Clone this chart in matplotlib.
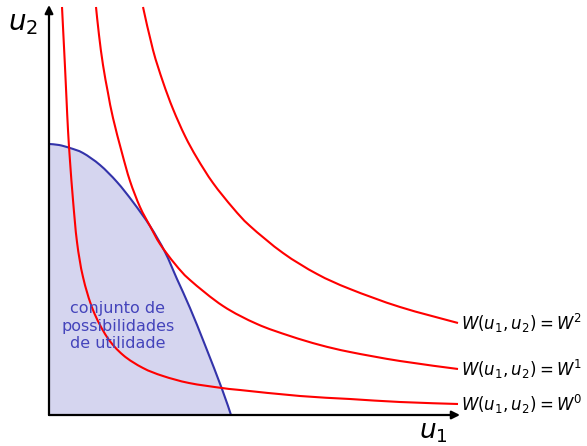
import numpy as np
import matplotlib.pyplot as plt
from matplotlib.path import Path
from matplotlib.patches import PathPatch

# utility possibility frontier (u1, u2)
frontier_u1 = [0, 10, 21, 34, 51, 68, 84, 101, 116, 128, 141, 156, 173, 182]
frontier_u2 = [271, 270, 267, 262, 250, 233, 213, 189, 163, 136, 107, 70, 26, 0]

# social indifference curves W^0, W^1, W^2
w0_u1 = [13, 14.5, 16, 17.5, 19, 21, 24, 28, 34, 44, 58, 74, 94, 114, 140, 173, 191, 251, 301, 351, 409]
w0_u2 = [408, 378, 348, 316, 285, 254, 215, 173, 138, 105, 78, 60, 47, 39, 32, 27, 25, 19, 16, 13, 11]

w1_u1 = [47, 50, 54, 59, 64, 73, 81, 91, 101, 111, 126, 141, 174, 208, 241, 271, 301, 351, 409]
w1_u2 = [408, 380, 350, 322, 297, 262, 234, 208, 189, 171, 151, 135, 109, 91, 79, 70, 63, 54, 46]

w2_u1 = [94, 104, 114, 124, 136, 148, 164, 184, 201, 234, 268, 301, 351, 409]
w2_u2 = [408, 365, 333, 306, 279, 257, 232, 207, 189, 162, 141, 126, 108, 92]

curve_labels = [r'$W(u_1,u_2)=W^0$', r'$W(u_1,u_2)=W^1$', r'$W(u_1,u_2)=W^2$']


def smooth_path(xs, ys):
    # cubic bezier through the points (catmull-rom tangents)
    p = np.column_stack([xs, ys]).astype(float)
    verts = [p[0]]
    codes = [Path.MOVETO]
    for i in range(len(p) - 1):
        p0 = p[i - 1] if i > 0 else p[i]
        p3 = p[i + 2] if i + 2 < len(p) else p[i + 1]
        c1 = p[i] + (p[i + 1] - p0) / 6
        c2 = p[i + 1] - (p3 - p[i]) / 6
        verts += [c1, c2, p[i + 1]]
        codes += [Path.CURVE4] * 3
    return verts, codes


fig = plt.figure(figsize=(5.87, 4.46), dpi=100)
ax = fig.add_axes([0, 0, 1, 1])
ax.set_xlim(-49, 538)
ax.set_ylim(-31, 415)
ax.axis('off')

# shaded set
v, c = smooth_path(frontier_u1, frontier_u2)
v = v + [(0, 0), (0, frontier_u2[0])]
c = c + [Path.LINETO, Path.CLOSEPOLY]
ax.add_patch(PathPatch(Path(v, c), facecolor='#d5d5ef', edgecolor='none'))
v, c = smooth_path(frontier_u1, frontier_u2)
ax.add_patch(PathPatch(Path(v, c), facecolor='none', edgecolor='#3333aa', lw=1.5))

ax.text(69, 89, 'conjunto de\npossibilidades\nde utilidade', color='#4444bb',
        fontsize=11.5, ha='center', va='center', linespacing=1.2)

for xs, ys, lab in [(w0_u1, w0_u2, curve_labels[0]),
                    (w1_u1, w1_u2, curve_labels[1]),
                    (w2_u1, w2_u2, curve_labels[2])]:
    v, c = smooth_path(xs, ys)
    ax.add_patch(PathPatch(Path(v, c), facecolor='none', edgecolor='red', lw=1.5))
    ax.text(xs[-1] + 3, ys[-1], lab, fontsize=12, ha='left', va='center')

# axes with arrows
ax.annotate('', xy=(411, 0), xytext=(0, 0),
            arrowprops=dict(arrowstyle='-|>', color='black', lw=1.6, mutation_scale=12, shrinkA=0, shrinkB=0))
ax.annotate('', xy=(0, 410), xytext=(0, 0),
            arrowprops=dict(arrowstyle='-|>', color='black', lw=1.6, mutation_scale=12, shrinkA=0, shrinkB=0))
ax.text(-26, 392, r'$u_2$', fontsize=20, ha='center', va='center')
ax.text(384, -17, r'$u_1$', fontsize=19, ha='center', va='center')

fig.savefig('out.png', dpi=100)
